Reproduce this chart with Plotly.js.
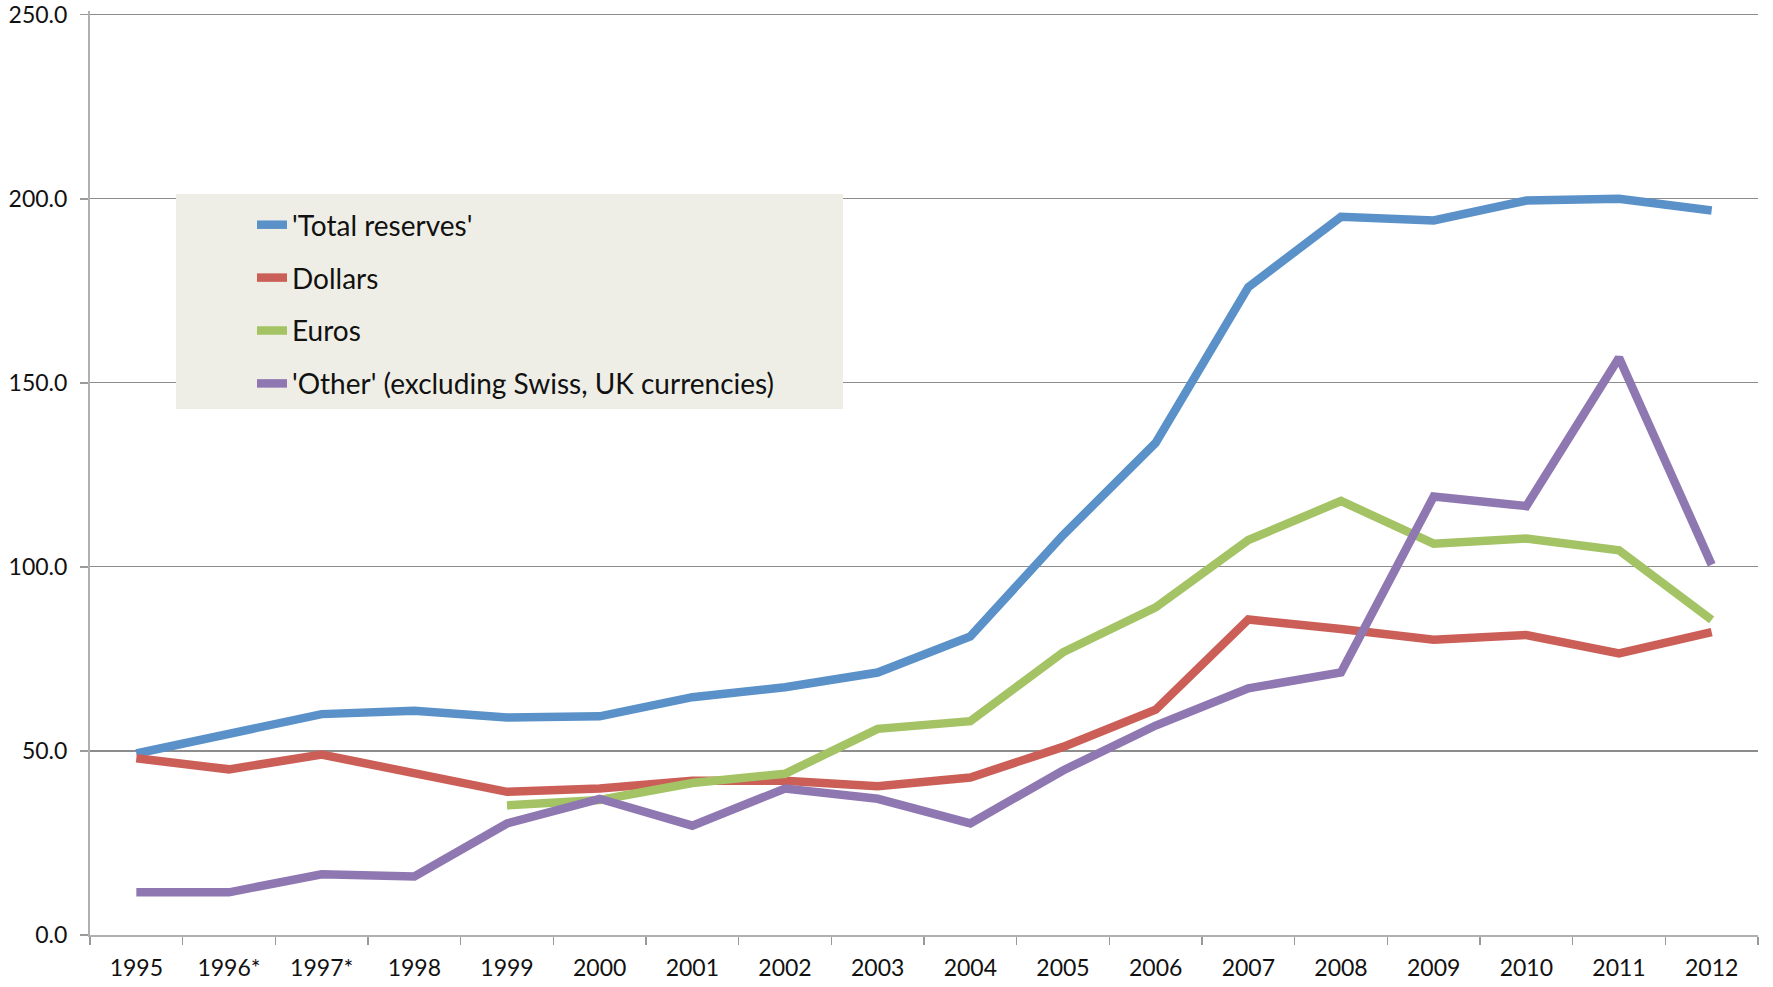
<!DOCTYPE html>
<html>
<head>
<meta charset="utf-8">
<script src="https://cdn.plot.ly/plotly-3.0.1.min.js"></script>
<style>html,body{margin:0;padding:0;background:#fff;}#chart{width:1773px;height:987px;}</style>
</head>
<body>
<div id="chart"></div>
<script>
const years = ['1995','1996*','1997*','1998','1999','2000','2001','2002','2003','2004','2005','2006','2007','2008','2009','2010','2011','2012'];
const totalReserves = [49.3, 54.5, 60.0, 60.9, 59.1, 59.4, 64.6, 67.3, 71.3, 81.1, 108.6, 133.7, 176.0, 195.1, 194.1, 199.5, 200.0, 196.8];
const dollars = [48.0, 45.0, 49.0, 43.8, 38.9, 39.8, 41.9, 41.9, 40.4, 42.8, 51.1, 61.2, 85.7, 83.1, 80.2, 81.5, 76.5, 82.3];
const euros = [null, null, null, null, 35.2, 36.7, 41.3, 43.8, 56.0, 58.1, 76.8, 89.0, 107.3, 117.9, 106.3, 107.7, 104.5, 85.6];
const other = [11.6, 11.6, 16.5, 15.9, 30.3, 37.0, 29.7, 39.8, 37.0, 30.3, 44.7, 56.9, 67.0, 71.3, 119.1, 116.5, 156.8, 100.6];
const seriesNames = ["'Total reserves'", "Dollars", "Euros", "'Other' (excluding Swiss, UK currencies)"];
const yTicks = [0, 50, 100, 150, 200, 250];

const colors = ['#5A91C8', '#CB5F57', '#A4C364', '#8F78B2'];
const seriesData = [totalReserves, dollars, euros, other];

const traces = seriesData.map((vals, i) => ({
  type: 'scatter',
  mode: 'lines',
  x: years,
  y: vals,
  name: seriesNames[i],
  legendgroup: 'g' + i,
  line: {color: colors[i], width: 8.5},
  connectgaps: false,
  hoverinfo: 'skip'
}));

const W = 1773, H = 987;
const L = 90, R = 15, T = 11, B = 52;
const pw = W - L - R, ph = H - T - B;
const px = v => (v - L) / pw;
const py = v => (H - B - v) / ph;
const FONT = 'Lato, "Open Sans", sans-serif';

const layout = {
  width: W, height: H,
  margin: {l: L, r: R, t: T, b: B},
  paper_bgcolor: '#ffffff',
  plot_bgcolor: '#ffffff',
  font: {family: FONT, color: '#111'},
  showlegend: true,
  legend: {
    x: px(252), y: py(200), xanchor: 'left', yanchor: 'top',
    bgcolor: 'rgba(0,0,0,0)', borderwidth: 0,
    font: {family: FONT, size: 28, color: '#111'},
    tracegroupgap: 13.5,
    traceorder: 'grouped'
  },
  xaxis: {
    type: 'category',
    range: [-0.5, 17.5],
    tickvals: years,
    ticktext: years,
    tickson: 'boundaries',
    ticks: 'outside', ticklen: 8, tickcolor: '#9a9a9a', tickwidth: 1.5,
    showline: true, linecolor: '#b0b0b0', linewidth: 2,
    showgrid: false, zeroline: false,
    tickfont: {family: FONT, size: 23, color: '#111'},
    ticklabelstandoff: 11,
    fixedrange: true
  },
  yaxis: {
    range: [0, 251],
    tickvals: yTicks,
    tickformat: '.1f',
    ticks: 'outside', ticklen: 8, tickcolor: '#9a9a9a', tickwidth: 1.5,
    showline: true, linecolor: '#b0b0b0', linewidth: 2,
    showgrid: true, gridcolor: '#8c8c8c', gridwidth: 1.2,
    zeroline: false,
    tickfont: {family: FONT, size: 23, color: '#111'},
    ticklabelstandoff: 8,
    ticklabeloverflow: 'allow',
    fixedrange: true
  },
  shapes: [{
    type: 'rect', xref: 'paper', yref: 'paper',
    x0: px(176), x1: px(843), y0: py(409), y1: py(194),
    fillcolor: '#EFEEE6', line: {width: 0}, layer: 'above'
  }]
};

Plotly.newPlot('chart', traces, layout, {staticPlot: true, displayModeBar: false});
</script>
</body>
</html>
